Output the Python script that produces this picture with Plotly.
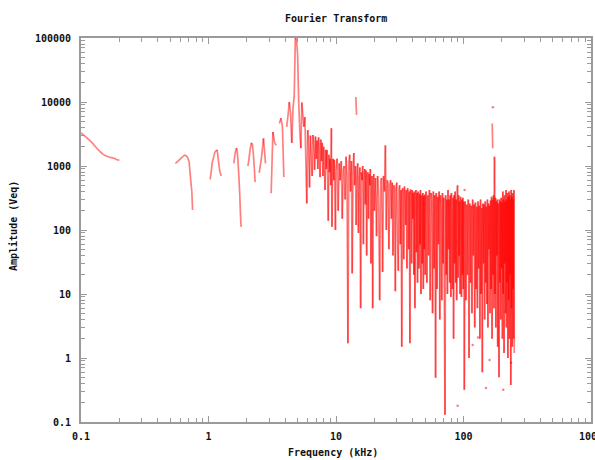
import numpy as np
import plotly.graph_objects as go

# ---------------- data ----------------
# low-frequency pieces (kHz, amplitude)
segA_f = [0.100, 0.110, 0.120, 0.130, 0.140, 0.150, 0.160, 0.170, 0.180, 0.190, 0.200]
segA_a = [3300, 2800, 2400, 2000, 1700, 1500, 1420, 1360, 1330, 1260, 1230]

segB_f = [0.55, 0.58, 0.61, 0.635, 0.655, 0.675, 0.69, 0.705, 0.716, 0.728, 0.74, 0.75]
segB_a = [1100, 1200, 1330, 1430, 1480, 1420, 1330, 1150, 800, 560, 400, 205]

segC_f = [1.03, 1.05, 1.07, 1.10, 1.12, 1.15, 1.17, 1.19, 1.21, 1.23, 1.26]
segC_a = [620, 800, 1150, 1400, 1650, 1750, 1780, 1330, 1000, 800, 700]

segD_f = [1.58, 1.61, 1.64, 1.66, 1.68, 1.70, 1.73, 1.76, 1.78, 1.80]
segD_a = [1100, 1500, 1800, 1900, 1700, 1250, 700, 350, 180, 112]

segE_f = [2.04, 2.08, 2.12, 2.17, 2.21, 2.25, 2.29, 2.32]
segE_a = [1000, 1330, 1800, 2300, 2200, 1500, 900, 560]

# 2.5 .. 10.0 kHz, 0.1 kHz bins
segF_a = [780, 1330, 2700, 1100, None, None, 375, 3400, 2300, 2100,
          None, 4600, 5600, 4100, 670, None, 4100, 6000, 10000, 6760,
          2300, 8000, 12000, 100000, 95000, 54000, 10000, 3650, 1900, 9800,
          6000, 4100, 5800, 1200, 260, 3650, 2000, 460, 3000, 1500,
          700, 3050, 2000, 870, 2900, 1300, 2500, 900, 2800, 1600,
          670, 2600, 1200, 2300, 700, 2000, 1100, 420, 1800, 900,
          1780, 600, 140, 1500, 800, 1300, 500, 3900, 112, 1000,
          1300, 600, 1250, 400, 100, 900]

# 10.2 .. 20.0 kHz, 0.2 kHz bins
segG1_a = [1300, 200, 1100, 600, 1200, 150, 900, 1000, 300, 1400,
           700, 1.7, 1100, 1500, 400, 1200, 21, 900, 1600, 500,
           1000, 120, 800, 1100, 90, 700, 950, 6, 800, 600,
           1000, 60, 700, 900, 250, 850, 40, 700, 800, 150,
           750, 500, 900, 30, 650, 700, 6, 600, 750, 200]

# 20.4 .. 50.0 kHz, 0.4 kHz bins
segG2_a = [650, 80, 700, 300, 8, 600, 650, 22, 700, 400,
           2100, 100, 600, 550, 50, 500, 600, 150, 550, 40,
           500, 450, 11, 500, 550, 80, 23, 450, 500, 60,
           420, 1.5, 450, 400, 35, 480, 300, 120, 420, 25,
           450, 380, 50, 400, 1.7, 430, 350, 30, 420, 150,
           380, 20, 400, 6, 350, 420, 45, 380, 15, 400,
           300, 25, 370, 60, 420, 10, 350, 200, 30, 380,
           12, 340, 50, 360, 20]

# 50.8 .. 100.4 kHz, 0.8 kHz bins
segG3_a = [400, 15, 350, 40, 420, 8, 380, 300, 5, 400,
           25, 350, 0.49, 380, 12, 330, 60, 400, 4, 350,
           200, 8, 380, 30, 320, 6, 0.13, 350, 20, 300,
           10, 420, 50, 300, 15, 350, 9, 380, 100, 12,
           320, 2, 350, 30, 400, 15, 300, 8, 450, 500,
           18, 350, 40, 280, 10, 330, 150, 9, 300, 20,
           320, 12, 280]

# 101.5 .. 250 kHz, 1.5 kHz bins
segG4_a = [0.32, 280, 8, 250, 20, 300, 1, 260, 15, 240,
           5, 300, 40, 250, 3, 270, 12, 230, 6, 280,
           25, 240, 2, 300, 10, 220, 0.6, 260, 30, 250,
           4, 280, 15, 230, 7, 300, 3, 260, 50, 240,
           5, 290, 12, 330, 2, 300, 20, 350, 6, 1400,
           10, 320, 3, 280, 40, 300, 1.5, 260, 8, 0.5,
           300, 15, 280, 4, 320, 25, 270, 2, 400, 10,
           300, 1.2, 350, 30, 280, 5, 420, 3, 300, 15,
           380, 1, 330, 8, 400, 2, 350, 20, 300, 0.38,
           420, 6, 330, 1.5, 380, 12, 300, 2, 420, 1.2]

# isolated line pieces and stray points
spike14_f = [14.3, 14.5]
spike14_a = [12000, 6300]
spike170_f = [168.0, 169.5]
spike170_a = [4600, 1900]
dots_f = [170.0, 90.0, 118.0, 130.0, 150.0, 160.0, 205.0, 236.0, 102.0]
dots_a = [8300, 0.18, 1.6, 2.1, 0.34, 0.93, 0.32, 0.84, 420]

x_tick_vals = [0.1, 1, 10, 100, 1000]
x_tick_text = ["0.1", "1", "10", "100", "1000"]
y_tick_vals = [0.1, 1, 10, 100, 1000, 10000, 100000]
y_tick_text = ["0.1", "1", "10", "100", "1000", "10000", "100000"]

# ---------------- assemble ----------------
segF_f = np.linspace(2.5, 10.0, len(segF_a))
segG1_f = np.linspace(10.2, 20.0, len(segG1_a))
segG2_f = np.linspace(20.4, 50.0, len(segG2_a))
segG3_f = np.linspace(50.8, 100.4, len(segG3_a))
segG4_f = np.linspace(101.5, 250.0, len(segG4_a))

xs, ys = [], []
for f, a in [(segA_f, segA_a), (segB_f, segB_a), (segC_f, segC_a),
             (segD_f, segD_a), (segE_f, segE_a)]:
    xs += list(f) + [None]
    ys += list(a) + [None]
for f, a in [(segF_f, segF_a), (segG1_f, segG1_a), (segG2_f, segG2_a),
             (segG3_f, segG3_a), (segG4_f, segG4_a)]:
    xs += list(f)
    ys += list(a)
xs += [None] + spike14_f + [None] + spike170_f
ys += [None] + spike14_a + [None] + spike170_a

# split the polyline into short pieces spread over several traces so that
# overlapping strokes build up colour (dense parts turn solid red, single
# strokes stay light, like the anti-aliased original)
K = 8
pieces_x = [[] for _ in range(K)]
pieces_y = [[] for _ in range(K)]
n = 0
for i in range(len(xs) - 1):
    if ys[i] is None or ys[i + 1] is None:
        continue
    r = n % K
    pieces_x[r] += [xs[i], xs[i + 1], None]
    pieces_y[r] += [ys[i], ys[i + 1], None]
    n += 1

LINE = "rgba(255,0,0,0.5)"
fig = go.Figure()
for r in range(K):
    fig.add_trace(go.Scatter(x=pieces_x[r], y=pieces_y[r], mode="lines", connectgaps=False,
                             line=dict(color=LINE, width=1.7), hoverinfo="skip"))
fig.add_trace(go.Scatter(x=dots_f, y=dots_a, mode="markers",
                         marker=dict(color="rgba(255,0,0,0.5)", size=2.5),
                         hoverinfo="skip"))

FONT = dict(family="DejaVu Sans Mono", size=10, color="#111111", weight="bold")
AXCOL = "#9a9a9a"

minor_x = [k * 10.0 ** e for e in range(-1, 3) for k in range(2, 10)]
minor_y = [k * 10.0 ** e for e in range(-1, 5) for k in range(2, 10)]

fig.update_layout(
    width=595, height=460,
    margin=dict(l=81, r=4, t=38, b=38, autoexpand=False),
    paper_bgcolor="white", plot_bgcolor="white",
    showlegend=False,
    font=FONT,
    xaxis=dict(type="log", range=[-1, 3], tickvals=x_tick_vals, ticktext=x_tick_text,
               ticks="inside", ticklen=6, tickwidth=1, tickcolor=AXCOL, automargin=False,
               showline=True, linewidth=2, linecolor=AXCOL, mirror="allticks",
               showgrid=False, zeroline=False, tickfont=FONT, ticklabelstandoff=4,
               ticklabeloverflow="allow",
               minor=dict(ticks="inside", ticklen=4, tickwidth=1, tickcolor=AXCOL,
                          tickvals=minor_x, showgrid=False)),
    yaxis=dict(type="log", range=[-1, 5], tickvals=y_tick_vals, ticktext=y_tick_text,
               ticks="inside", ticklen=6, tickwidth=1, tickcolor=AXCOL, automargin=False,
               showline=True, linewidth=2, linecolor=AXCOL, mirror="allticks",
               showgrid=False, zeroline=False, tickfont=FONT, ticklabelstandoff=6,
               ticklabeloverflow="allow",
               minor=dict(ticks="inside", ticklen=4, tickwidth=1, tickcolor=AXCOL,
                          tickvals=minor_y, showgrid=False)),
    annotations=[
        dict(text="Fourier Transform", xref="paper", yref="paper", x=0.5,
             y=1 + 19 / 384, xanchor="center", yanchor="middle", showarrow=False, font=FONT),
        dict(text="Frequency (kHz)", xref="paper", yref="paper", x=(333 - 81) / 510,
             y=-(452 - 422) / 384, xanchor="center", yanchor="middle", showarrow=False, font=FONT),
        dict(text="Amplitude (Veq)", xref="paper", yref="paper", x=(13 - 81) / 510,
             y=(422 - 226) / 384, xanchor="center", yanchor="middle", textangle=-90,
             showarrow=False, font=FONT),
    ],
)

fig.write_html("out.html",
               config={"displayModeBar": False},
               post_script="document.body.style.margin='0';"
                           "document.body.style.overflow='hidden';")
